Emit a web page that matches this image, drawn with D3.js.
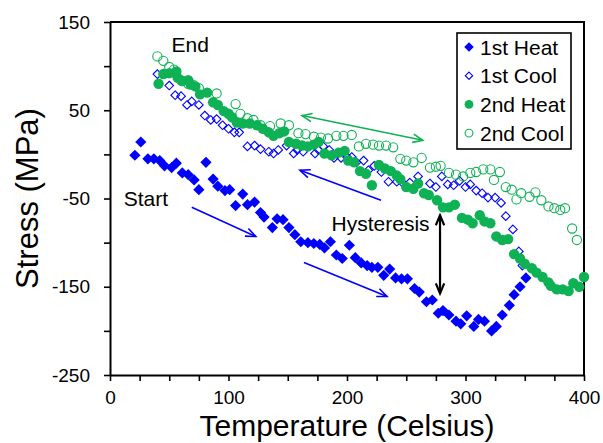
<!DOCTYPE html>
<html><head><meta charset="utf-8">
<script src="https://cdn.jsdelivr.net/npm/d3@7"></script>
<style>
html,body{margin:0;padding:0;background:#fff;}
svg text{font-family:"Liberation Sans",Arial,Helvetica,sans-serif;fill:#000;}
</style></head>
<body>
<svg id="chart" width="603" height="443"></svg>
<script>
// ---- data (Temperature °C, Stress MPa) ----
const heat1 = [[21,-1],[26,14],[32,-5],[37,-5],[42,-7],[46,-13],[52,-15],[56,-10],[61,-21],[66,-23],[71,-29],[75,-40],[81,-9],[87,-28],[91,-36],[97,-41],[101,-40],[106,-58],[112,-45],[116,-57],[122,-54],[127,-66],[130,-71],[137,-83],[141,-73],[146,-74],[151,-83],[156,-91],[161,-99],[167,-100],[172,-101],[177,-102],[181,-106],[186,-99],[191,-114],[196,-118],[202,-103],[207,-117],[212,-123],[217,-126],[221,-128],[226,-128],[231,-137],[236,-130],[241,-140],[246,-141],[251,-141],[257,-152],[261,-156],[267,-167],[272,-165],[277,-180],[281,-177],[286,-182],[292,-189],[296,-192],[301,-183],[307,-195],[311,-187],[316,-189],[322,-200],[326,-195],[331,-182],[337,-171],[341,-159],[346,-150],[351,-140]];
const cool1 = [[40,91],[50,78],[55,67],[60,66],[65,56],[69,60],[75,56],[80,44],[85,39],[90,40],[95,33],[100,29],[105,25],[109,25],[116,9],[122,10],[127,6],[134,3],[138,1],[142,5],[149,10],[155,1],[158,5],[163,3],[173,1],[176,5],[180,9],[185,5],[189,-4],[195,-4],[200,-3],[204,-3],[208,-9],[214,-7],[218,-18],[223,-13],[229,-20],[235,-31],[242,-31],[246,-31],[253,-32],[260,-25],[270,-33],[275,-37],[280,-25],[285,-34],[290,-35],[295,-30],[300,-37],[304,-34],[309,-41],[314,-44],[319,-49],[325,-49],[330,-55],[334,-70],[340,-85],[345,-110],[348,-126]];
const heat2 = [[41,80],[45,91],[50,92],[56,94],[57,87],[61,83],[66,84],[68,79],[72,77],[76,68],[82,70],[87,59],[91,56],[96,49],[100,46],[103,42],[107,36],[112,35],[118,35],[124,33],[129,29],[134,25],[138,21],[143,24],[147,26],[151,14],[157,12],[162,10],[167,9],[172,11],[176,14],[181,1],[187,-1],[193,2],[198,4],[201,-7],[206,-9],[211,-19],[216,-22],[221,-35],[227,-12],[232,-16],[237,-19],[242,-24],[245,-28],[250,-37],[256,-39],[260,-33],[265,-44],[269,-46],[276,-52],[281,-60],[286,-60],[291,-57],[297,-72],[302,-74],[306,-78],[312,-69],[316,-76],[321,-78],[326,-93],[331,-97],[336,-96],[341,-113],[346,-118],[350,-124],[356,-129],[360,-134],[365,-139],[370,-145],[372,-149],[377,-153],[382,-153],[387,-155],[391,-146],[396,-150],[400,-139]];
const cool2 = [[40,111],[45,106],[50,99],[54,96],[60,84],[66,80],[70,79],[75,75],[90,69],[106,57],[110,46],[116,41],[121,39],[127,33],[135,32],[144,35],[151,33],[159,24],[165,23],[172,20],[178,19],[184,18],[191,21],[197,21],[204,22],[210,9],[216,12],[222,11],[227,10],[233,10],[239,8],[245,-5],[250,-7],[256,-9],[263,-4],[270,-15],[275,-14],[279,-13],[286,-21],[292,-23],[298,-25],[304,-21],[309,-20],[315,-17],[321,-17],[324,-29],[329,-20],[334,-37],[339,-40],[343,-51],[347,-44],[354,-48],[359,-43],[364,-52],[370,-59],[375,-61],[380,-63],[384,-61],[390,-84],[394,-97]];

const seriesNames = ["1st Heat","1st Cool","2nd Heat","2nd Cool"];
const xTicks = d3.range(0, 401, 25);
const xLabels = [0,100,200,300,400];
const yTicks = d3.range(-250, 151, 50);
const yLabels = [-250,-150,-50,50,150];

// annotations in data coordinates
const labels = [{text:"End",t:52,s:116},{text:"Start",t:11.5,s:-58.5},{text:"Hysteresis",t:187,s:-87}];
const arrows = [
  {a:[162,44], b:[264,16], color:"green", w:1.6, start:true, end:true},
  {a:[160.3,-18], b:[228.7,-52], color:"blue", w:1.6, start:true, end:false},
  {a:[69,-60], b:[123,-93], color:"blue", w:1.6, start:false, end:true},
  {a:[163.7,-122.4], b:[233.8,-161], color:"blue", w:1.6, start:false, end:true},
  {a:[278.5,-69], b:[278.5,-157.5], color:"black", w:2.2, start:true, end:true}
];

const BLUE = "#0000ff", GREEN = "#0fb155";
const colorMap = {blue:BLUE, green:GREEN, black:"#000"};

const svg = d3.select("#chart");
const x = d3.scaleLinear().domain([0,400]).range([110,584]);
const y = d3.scaleLinear().domain([-250,150]).range([375,22]);

// axes
const xAxis = d3.axisBottom(x).tickValues(xTicks).tickSize(6).tickSizeOuter(0).tickPadding(10)
  .tickFormat(d => xLabels.includes(d) ? d : "");
const yAxis = d3.axisLeft(y).tickValues(yTicks).tickSize(6).tickSizeOuter(0).tickPadding(14)
  .tickFormat(d => yLabels.includes(d) ? d : "");
const gx = svg.append("g").attr("transform","translate(0,375)").call(xAxis);
const gy = svg.append("g").attr("transform","translate(110,0)").call(yAxis);
[gx,gy].forEach(g=>{
  g.select(".domain").attr("stroke","#000").attr("stroke-width",2);
  g.selectAll(".tick line").attr("stroke","#000").attr("stroke-width",1.6);
  g.selectAll(".tick text").attr("font-size",19).attr("font-family","Liberation Sans, Arial, sans-serif").attr("fill","#000");
});
// frame (top & right)
svg.append("path").attr("d",`M${x(0)},${y(150)}H${x(400)}V${y(-250)}`)
  .attr("fill","none").attr("stroke","#000").attr("stroke-width",2);

// axis titles
svg.append("text").attr("x",(x(0)+x(400))/2).attr("y",436).attr("text-anchor","middle")
  .attr("font-size",30).text("Temperature (Celsius)");
svg.append("text").attr("transform",`translate(38,${(y(150)+y(-250))/2}) rotate(-90)`)
  .attr("text-anchor","middle").attr("font-size",31).text("Stress (MPa)");

// marker drawing helpers
const diamond = r => `M0,${-r}L${r},0L0,${r}L${-r},0Z`;
function drawMarker(g, type, px, py, scale=1){
  if(type===0) g.append("path").attr("d",diamond(5.6*scale)).attr("transform",`translate(${px},${py})`).attr("fill",BLUE);
  else if(type===1) g.append("path").attr("d",diamond(4.3*scale)).attr("transform",`translate(${px},${py})`).attr("fill","none").attr("stroke",BLUE).attr("stroke-width",1.1);
  else if(type===2) g.append("circle").attr("cx",px).attr("cy",py).attr("r",5.2*scale).attr("fill",GREEN);
  else g.append("circle").attr("cx",px).attr("cy",py).attr("r",4.6*scale).attr("fill","none").attr("stroke",GREEN).attr("stroke-width",1.1);
}
const plot = svg.append("g");
[heat1,cool1,heat2,cool2].forEach((data,i)=>{
  const g = plot.append("g");
  data.forEach(d=>drawMarker(g,i,x(d[0]),y(d[1])));
});

// arrows
function head(g, px, py, ang, color, w){
  const L=10, H=4.2;
  const ca=Math.cos(ang), sa=Math.sin(ang);
  const p1=[px - L*ca + H*sa, py - L*sa - H*ca];
  const p2=[px - L*ca - H*sa, py - L*sa + H*ca];
  g.append("path").attr("d",`M${p1[0]},${p1[1]}L${px},${py}L${p2[0]},${p2[1]}`)
    .attr("fill","none").attr("stroke",color).attr("stroke-width",w).attr("stroke-linejoin","miter");
}
const ag = svg.append("g");
arrows.forEach(a=>{
  const x1=x(a.a[0]), y1=y(a.a[1]), x2=x(a.b[0]), y2=y(a.b[1]);
  const c = colorMap[a.color];
  ag.append("line").attr("x1",x1).attr("y1",y1).attr("x2",x2).attr("y2",y2).attr("stroke",c).attr("stroke-width",a.w);
  const ang = Math.atan2(y2-y1,x2-x1);
  if(a.end) head(ag,x2,y2,ang,c,a.w);
  if(a.start) head(ag,x1,y1,ang+Math.PI,c,a.w);
});

// annotation text
labels.forEach(l=>{
  svg.append("text").attr("x",x(l.t)).attr("y",y(l.s)).attr("font-size",21).text(l.text);
});

// legend
const lg = svg.append("g");
lg.append("rect").attr("x",457).attr("y",33).attr("width",114).attr("height",116)
  .attr("fill","#fff").attr("stroke","#000").attr("stroke-width",1.6);
seriesNames.forEach((n,i)=>{
  const cy = 47 + i*28.7;
  drawMarker(lg,i,469,cy,0.85);
  lg.append("text").attr("x",480).attr("y",cy+7.5).attr("font-size",21).text(n);
});
</script>
</body></html>
